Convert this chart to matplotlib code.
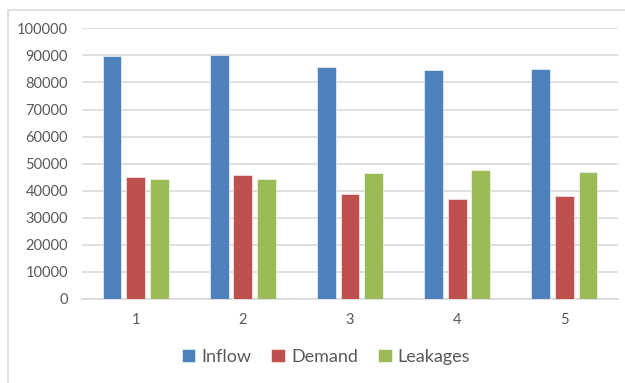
import matplotlib
matplotlib.use("Agg")
import matplotlib.pyplot as plt
import numpy as np
from matplotlib.patches import Rectangle

plt.rcParams['font.family'] = ['Lato', 'DejaVu Sans']

categories = ["1", "2", "3", "4", "5"]
inflow = [89700, 90100, 85800, 84700, 85100]
demand = [44900, 45900, 38800, 37000, 38000]
leakages = [44500, 44300, 46700, 47600, 47000]

series = [("Inflow", inflow, "#4f81bd"),
          ("Demand", demand, "#c0504d"),
          ("Leakages", leakages, "#9bbb59")]

W, H = 625, 383
fig = plt.figure(figsize=(W / 100, H / 100), dpi=100)

# outer chart frame
fig.patches.append(Rectangle((8 / W, -0.05), 1.1, 1 - 10 / H + 0.05,
                             transform=fig.transFigure, fill=False,
                             edgecolor="#d9d9d9", linewidth=1.2, zorder=0))

ax = fig.add_axes([82 / W, 1 - 299 / H, (618 - 82) / W, (299 - 28.3) / H])

x = np.arange(len(categories))
width = 0.175
offsets = [-0.22, 0.0, 0.22]
handles = []
for (name, vals, color), off in zip(series, offsets):
    b = ax.bar(x + off, vals, width, color=color, label=name, zorder=3,
               edgecolor="white", linewidth=0.4)
    handles.append(b)

ax.set_xlim(-0.5, len(categories) - 0.5)
ax.set_ylim(0, 100000)
ax.set_yticks(np.arange(0, 100001, 10000))
ax.set_xticks(x)
ax.set_xticklabels(categories)
ax.yaxis.grid(True, color="#d9d9d9", linewidth=1.2, zorder=0)
ax.set_axisbelow(True)
for s in ["top", "right", "left"]:
    ax.spines[s].set_visible(False)
ax.spines["bottom"].set_color("#d9d9d9")
ax.spines["bottom"].set_linewidth(1.2)
ax.tick_params(axis="both", length=0, colors="#595959", labelsize=10.5)
ax.tick_params(axis="y", pad=10)
ax.tick_params(axis="x", pad=10)

fig.legend(handles=handles, loc="center", bbox_to_anchor=(326 / W, 1 - 357 / H),
           ncol=3, frameon=False, fontsize=13, handlelength=0.75,
           handleheight=0.75, handletextpad=0.35, columnspacing=1.1,
           labelcolor="#595959")

fig.savefig("out.png", dpi=100, facecolor="white")
